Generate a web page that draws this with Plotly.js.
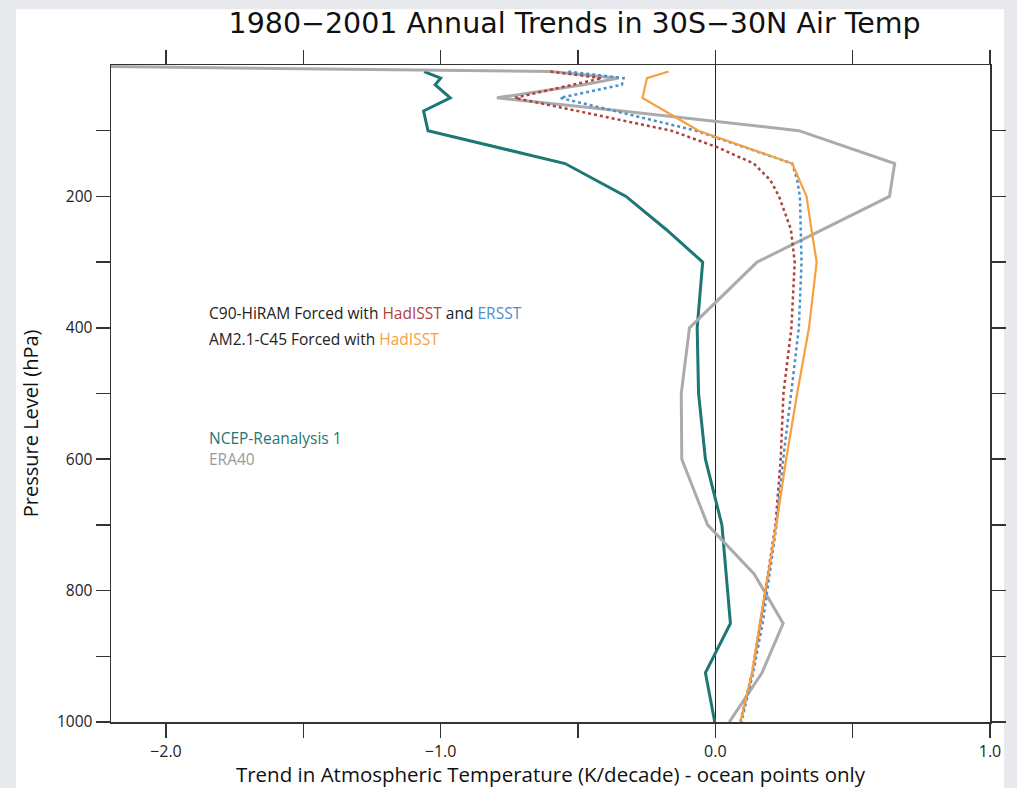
<!DOCTYPE html>
<html>
<head>
<meta charset="utf-8">
<script src="https://cdn.plot.ly/plotly-3.0.1.min.js"></script>
<style>
  html, body { margin: 0; padding: 0; background: #e8e9ed; }
  #chart { width: 1017px; height: 788px; }
</style>
</head>
<body>
<div id="chart"></div>
<script>
// Tropical (30S-30N) ocean-point temperature trends, 1980-2001, K/decade by pressure level (hPa)

// NCEP-Reanalysis 1
const ncepLevels = [10, 20, 30, 50, 70, 100, 150, 200, 250, 300, 400, 500, 600, 700, 850, 925, 1000];
const ncepTrend  = [-1.06, -1.00, -1.02, -0.965, -1.062, -1.046, -0.547, -0.325, -0.18, -0.046, -0.066, -0.061, -0.036, 0.024, 0.055, -0.036, -0.002];

// ERA40
const eraLevels = [2, 10, 20, 30, 50, 70, 100, 150, 200, 250, 300, 400, 500, 600, 700, 775, 850, 925, 1000];
const eraTrend  = [-2.3, -0.6, -0.352, -0.48, -0.795, -0.34, 0.304, 0.653, 0.634, 0.395, 0.152, -0.094, -0.124, -0.122, -0.028, 0.142, 0.247, 0.170, 0.051];

// C90-HiRAM forced with HadISST
const hiramHadLevels = [10, 20, 50, 100, 125, 150, 175, 200, 250, 300, 400, 500, 600, 700, 850, 925, 1000];
const hiramHadTrend  = [-0.60, -0.413, -0.73, -0.16, 0.006, 0.14, 0.20, 0.232, 0.275, 0.289, 0.277, 0.248, 0.238, 0.219, 0.164, 0.134, 0.091];

// C90-HiRAM forced with ERSST
const hiramErsLevels = [10, 20, 30, 50, 100, 150, 175, 200, 300, 400, 500, 600, 700, 850, 925, 1000];
const hiramErsTrend  = [-0.535, -0.334, -0.34, -0.565, -0.07, 0.28, 0.298, 0.308, 0.314, 0.304, 0.276, 0.247, 0.223, 0.172, 0.138, 0.095];

// AM2.1-C45 forced with HadISST
const am2Levels = [10, 20, 50, 100, 150, 200, 250, 300, 400, 500, 600, 700, 850, 925, 1000];
const am2Trend  = [-0.17, -0.249, -0.265, -0.061, 0.28, 0.332, 0.35, 0.369, 0.341, 0.298, 0.258, 0.222, 0.162, 0.134, 0.091];

// Axis ticks
const xTickVals  = [-2.0, -1.5, -1.0, -0.5, 0.0, 0.5, 1.0];
const xTickText  = ['\u22122.0', '', '\u22121.0', '', '0.0', '', '1.0'];
const yTickVals  = [100, 200, 300, 400, 500, 600, 700, 800, 900, 1000];
const yTickText  = ['', '200', '', '400', '', '600', '', '800', '', '1000'];

const colors = {
  ncep: '#1d7775',
  era: '#ababab',
  hiramHad: '#b0413e',
  hiramErs: '#4b8fcc',
  am2: '#f7a03f',
  text: '#222222'
};

const traces = [
  { x: ncepTrend, y: ncepLevels, mode: 'lines', line: { color: colors.ncep, width: 3 } },
  { x: eraTrend, y: eraLevels, mode: 'lines', line: { color: colors.era, width: 3 } },
  { x: hiramHadTrend, y: hiramHadLevels, mode: 'lines', line: { color: colors.hiramHad, width: 2.5, dash: 'dot' } },
  { x: hiramErsTrend, y: hiramErsLevels, mode: 'lines', line: { color: colors.hiramErs, width: 2.5, dash: 'dot' } },
  { x: am2Trend, y: am2Levels, mode: 'lines', line: { color: colors.am2, width: 2.2 } }
].map(t => Object.assign({ type: 'scatter', hoverinfo: 'skip', showlegend: false }, t));

const labelFont = { family: 'Open Sans, sans-serif', size: 15.5, color: colors.text };

const layout = {
  width: 1017,
  height: 788,
  margin: { l: 111, r: 27, t: 65, b: 66 },
  paper_bgcolor: '#e8e9ed',
  plot_bgcolor: '#ffffff',
  showlegend: false,
  title: {
    text: '1980\u22122001 Annual Trends in 30S\u221230N Air Temp',
    font: { family: 'DejaVu Sans, sans-serif', size: 28.5, color: '#111' },
    xref: 'container', x: 0.565, xanchor: 'center',
    yref: 'container', y: 0.971, yanchor: 'middle'
  },
  xaxis: {
    range: [-2.2, 1.0],
    tickmode: 'array', tickvals: xTickVals, ticktext: xTickText,
    ticks: 'outside', ticklen: 14, tickwidth: 1.5, tickcolor: '#333',
    showline: true, linecolor: '#333', linewidth: 1.5, mirror: 'allticks',
    showgrid: false,
    zeroline: true, zerolinecolor: '#222', zerolinewidth: 1.5,
    tickfont: { family: 'Open Sans, sans-serif', size: 16, color: '#222' },
    title: {
      text: 'Trend in Atmospheric Temperature (K/decade) - ocean points only',
      font: { family: 'Open Sans, sans-serif', size: 20.5, color: '#111' },
      standoff: 4
    },
    fixedrange: true
  },
  yaxis: {
    range: [1000, 0],
    tickmode: 'array', tickvals: yTickVals, ticktext: yTickText,
    ticks: 'outside', ticklen: 14, tickwidth: 1.5, tickcolor: '#333',
    showline: true, linecolor: '#333', linewidth: 1.5, mirror: 'allticks',
    showgrid: false, zeroline: false,
    tickfont: { family: 'Open Sans, sans-serif', size: 15.5, color: '#222' },
    fixedrange: true
  },
  shapes: [
    // white page panel behind the plot
    { type: 'rect', xref: 'paper', yref: 'paper', x0: -0.108, x1: 1.016, y0: -0.11, y1: 1.085,
      fillcolor: '#ffffff', line: { width: 0 }, layer: 'below' }
  ],
  annotations: [
    { xref: 'paper', yref: 'paper', x: -0.092, y: 0.455, textangle: -90, showarrow: false,
      text: 'Pressure Level (hPa)', font: { family: 'Open Sans, sans-serif', size: 20, color: '#111' },
      xanchor: 'center', yanchor: 'middle' },
    { xref: 'paper', yref: 'paper', x: 0.109, y: 0.6225, showarrow: false, xanchor: 'left', yanchor: 'middle',
      text: 'C90-HiRAM Forced with <span style="color:' + colors.hiramHad + '">HadISST</span> and <span style="color:' + colors.hiramErs + '">ERSST</span>',
      font: labelFont },
    { xref: 'paper', yref: 'paper', x: 0.109, y: 0.583, showarrow: false, xanchor: 'left', yanchor: 'middle',
      text: 'AM2.1-C45 Forced with <span style="color:' + colors.am2 + '">HadISST</span>',
      font: labelFont },
    { xref: 'paper', yref: 'paper', x: 0.109, y: 0.432, showarrow: false, xanchor: 'left', yanchor: 'middle',
      text: 'NCEP-Reanalysis 1', font: Object.assign({}, labelFont, { color: colors.ncep }) },
    { xref: 'paper', yref: 'paper', x: 0.109, y: 0.4003, showarrow: false, xanchor: 'left', yanchor: 'middle',
      text: 'ERA40', font: Object.assign({}, labelFont, { color: '#9a9a9a' }) }
  ]
};

Plotly.newPlot('chart', traces, layout, { displayModeBar: false, staticPlot: true });
</script>
</body>
</html>
